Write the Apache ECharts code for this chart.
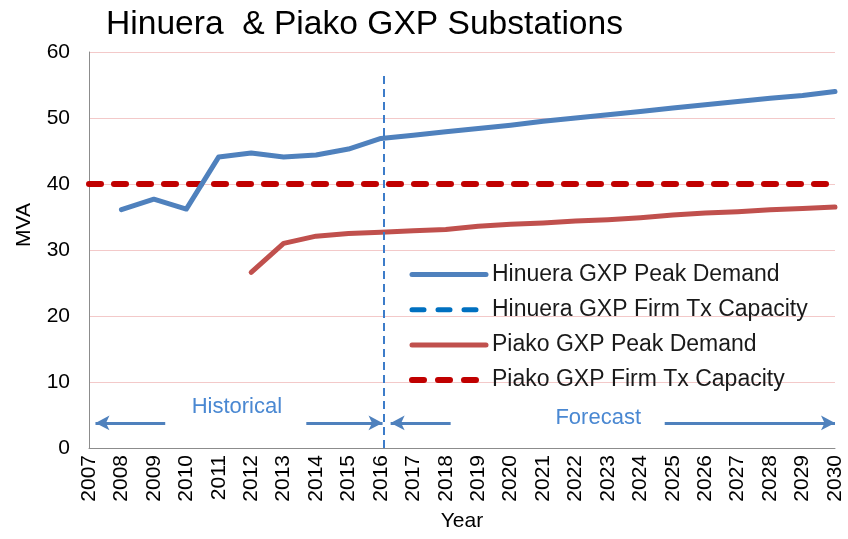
<!DOCTYPE html>
<html>
<head>
<meta charset="utf-8">
<script src="https://cdn.jsdelivr.net/npm/echarts@6/dist/echarts.min.js"></script>
<style>
html,body{margin:0;padding:0;background:#fff;}
#c{width:848px;height:539px;}
</style>
</head>
<body>
<div id="c"></div>
<script>
const years = [2007,2008,2009,2010,2011,2012,2013,2014,2015,2016,2017,2018,2019,2020,2021,2022,2023,2024,2025,2026,2027,2028,2029,2030];
const hinueraPeak = [null,36.1,37.7,36.2,44.1,44.7,44.1,44.4,45.3,46.9,47.4,47.9,48.4,48.9,49.5,50.0,50.5,51.0,51.5,52.0,52.5,53.0,53.4,54.0];
const hinueraFirm = [null,null,null,null,null,null,null,null,null,null,null,null,null,null,null,null,null,null,null,null,null,null,null,null];
const piakoPeak = [null,null,null,null,null,26.6,31.0,32.1,32.5,32.7,32.9,33.1,33.6,33.9,34.1,34.4,34.6,34.9,35.3,35.6,35.8,36.1,36.3,36.5];
const piakoFirm = [40,40,40,40,40,40,40,40,40,40,40,40,40,40,40,40,40,40,40,40,40,40,40,40];
const seriesNames = ['Hinuera GXP Peak Demand','Hinuera GXP Firm Tx Capacity','Piako GXP Peak Demand','Piako GXP Firm Tx Capacity'];
const yTicks = [0,10,20,30,40,50,60];

const pair = arr => years.map((y,i) => [y, arr[i]]);
const FONT = 'Liberation Sans, Arial, sans-serif';
const ARROW = '#4F81BD';

const chart = echarts.init(document.getElementById('c'), null, {renderer:'canvas'});
chart.setOption({
  animation:false,
  backgroundColor:'#fff',
  textStyle:{fontFamily:FONT},
  title:{text:'Hinuera  & Piako GXP Substations', left:101, top:3,
    textStyle:{fontFamily:FONT, fontSize:33.6, fontWeight:'normal', color:'#000'}},
  grid:{left:89, right:13, top:52, bottom:91, containLabel:false},
  legend:{
    data:[
      {name:seriesNames[0], lineStyle:{width:5, type:'solid'}},
      {name:seriesNames[1], lineStyle:{width:5, type:[12,14]}},
      {name:seriesNames[2], lineStyle:{width:5, type:'solid'}},
      {name:seriesNames[3], lineStyle:{width:6, type:[12,14]}}
    ],
    orient:'vertical', left:404, top:258,
    itemWidth:74, itemHeight:22, itemGap:12.2,
    itemStyle:{color:'rgba(0,0,0,0)', borderWidth:0, opacity:0},
    lineStyle:{cap:'round'},
    textStyle:{fontFamily:FONT, fontSize:23, color:'#1a1a1a', padding:[0,0,0,1]}
  },
  xAxis:{
    type:'value', min:years[0], max:years[years.length-1], interval:1,
    name:'Year', nameLocation:'middle', nameGap:63,
    nameTextStyle:{fontFamily:FONT, fontSize:21, color:'#000'},
    axisLine:{show:true, lineStyle:{color:'#8c8c8c', width:1}},
    axisTick:{show:false},
    splitLine:{show:false},
    axisLabel:{rotate:90, fontSize:21, color:'#000', fontFamily:FONT, margin:7,
      formatter:v => String(v)}
  },
  yAxis:{
    type:'value', min:yTicks[0], max:yTicks[yTicks.length-1], interval:10,
    axisLine:{show:true, lineStyle:{color:'#8c8c8c', width:1}},
    axisTick:{show:false},
    splitLine:{show:true, lineStyle:{color:'#F3C9C9', width:1}},
    axisLabel:{fontSize:21, color:'#000', fontFamily:FONT, margin:19}
  },
  graphic:[{
    type:'text', x:14, y:225, rotation:Math.PI/2,
    style:{text:'MVA', font:'21px Liberation Sans', fill:'#000', align:'center', verticalAlign:'top'}
  }],
  series:[
    {name:seriesNames[0], type:'line', data:pair(hinueraPeak), symbol:'none',
      lineStyle:{color:'#4F81BD', width:5, cap:'round', join:'round'}, itemStyle:{color:'#4F81BD'}},
    {name:seriesNames[1], type:'line', data:pair(hinueraFirm), symbol:'none',
      lineStyle:{color:'#0070C0', width:5, type:[12,14], cap:'round'}, itemStyle:{color:'#0070C0'}},
    {name:seriesNames[2], type:'line', data:pair(piakoPeak), symbol:'none',
      lineStyle:{color:'#C0504D', width:5, cap:'round', join:'round'}, itemStyle:{color:'#C0504D'}},
    {name:seriesNames[3], type:'line', data:pair(piakoFirm), symbol:'none', z:1,
      lineStyle:{color:'#C00000', width:6, type:[12,13], cap:'round'}, itemStyle:{color:'#C00000'}},
    {name:'annotations', type:'line', data:[], clip:false, silent:true,
      markLine:{
        silent:true, animation:false, label:{show:false},
        data:[
          [{coord:[2016.1,0], symbol:'none', lineStyle:{color:'#3D7CC9', width:2, type:[8,5]}},
           {coord:[2016.1,56.8], symbol:'none'}],
          [{coord:[2007.2,3.8], symbol:'arrow', symbolSize:[11,14], lineStyle:{color:ARROW, width:3, type:'solid'}},
           {coord:[2009.35,3.8], symbol:'none'}],
          [{coord:[2013.7,3.8], symbol:'none', lineStyle:{color:ARROW, width:3, type:'solid'}},
           {coord:[2016.05,3.8], symbol:'arrow', symbolSize:[11,14]}],
          [{coord:[2016.3,3.8], symbol:'arrow', symbolSize:[11,14], lineStyle:{color:ARROW, width:3, type:'solid'}},
           {coord:[2018.15,3.8], symbol:'none'}],
          [{coord:[2024.75,3.8], symbol:'none', lineStyle:{color:ARROW, width:3, type:'solid'}},
           {coord:[2030,3.8], symbol:'arrow', symbolSize:[11,14]}]
        ]
      },
      markPoint:{
        silent:true, symbol:'rect', symbolSize:0,
        label:{show:true, fontFamily:FONT, fontSize:22, color:'#4A88D2', position:'inside'},
        data:[
          {coord:[2011.56,6.2], label:{formatter:'Historical'}},
          {coord:[2022.7,4.5], label:{formatter:'Forecast'}}
        ]
      }
    }
  ]
});
</script>
</body>
</html>
